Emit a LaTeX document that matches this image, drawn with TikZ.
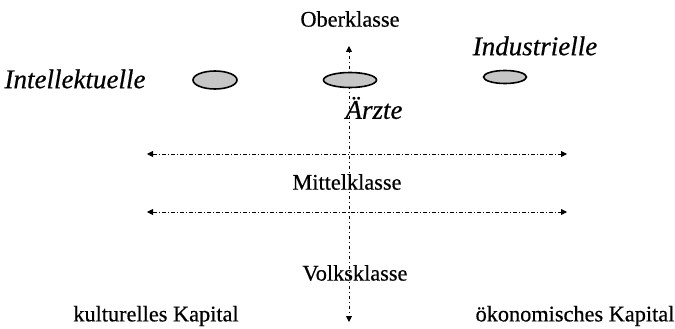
\documentclass[tikz,border=0pt]{standalone}
\usepackage{fontspec}
\setmainfont[FakeBold=0.5]{Liberation Serif}
\usetikzlibrary{arrows.meta,shapes.geometric}
\tikzset{
  lbl/.style={inner sep=0pt, font=\fontsize{22.3}{24}\selectfont},
  itl/.style={inner sep=0pt, font=\fontsize{27}{29}\selectfont\itshape},
  grp/.style={ellipse, draw=black, line width=1.6pt, fill=gray!45, inner sep=0pt},
  axis/.style={line width=0.9pt, dash pattern=on 4pt off 2pt on 1pt off 2pt, {Triangle[length=6pt,width=6pt]}-{Triangle[length=6pt,width=6pt]}}
}
\begin{document}
\begin{tikzpicture}[x=1pt,y=-1pt]
\useasboundingbox (0,0) rectangle (675,329);
% axes
\coordinate (vtop) at (349,46);
\coordinate (vbot) at (349,322);
\coordinate (h1l) at (147,154);
\coordinate (h1r) at (567,154);
\coordinate (h2l) at (147,212);
\coordinate (h2r) at (567,212);
\draw[axis, dash pattern=on 1pt off 3pt on 3pt off 3pt] (vtop) -- (vbot);
\draw[axis] (h1l) -- (h1r);
\draw[axis] (h2l) -- (h2r);
% ellipses
\node[grp, minimum width=44pt, minimum height=18pt] (eint) at (215,80) {};
\node[grp, minimum width=53pt, minimum height=15pt] (earz) at (350,80) {};
\node[grp, minimum width=43pt, minimum height=13pt] (eind) at (505,77) {};
% labels
\node[lbl] (ober) at (350,19) {Oberklasse};
\node[lbl] (mittel) at (347,182) {Mittelklasse};
\node[lbl] (volk) at (355,273) {Volksklasse};
\node[lbl] (kult) at (156,316) {kulturelles Kapital};
\node[lbl] (oeko) at (575,316) {ökonomisches Kapital};
\node[itl] (intel) at (75,79) {Intellektuelle};
\node[itl] (indu) at (535,46) {Industrielle};
\node[itl] (arzt) at (374,108) {Ärzte};
\end{tikzpicture}
\end{document}
